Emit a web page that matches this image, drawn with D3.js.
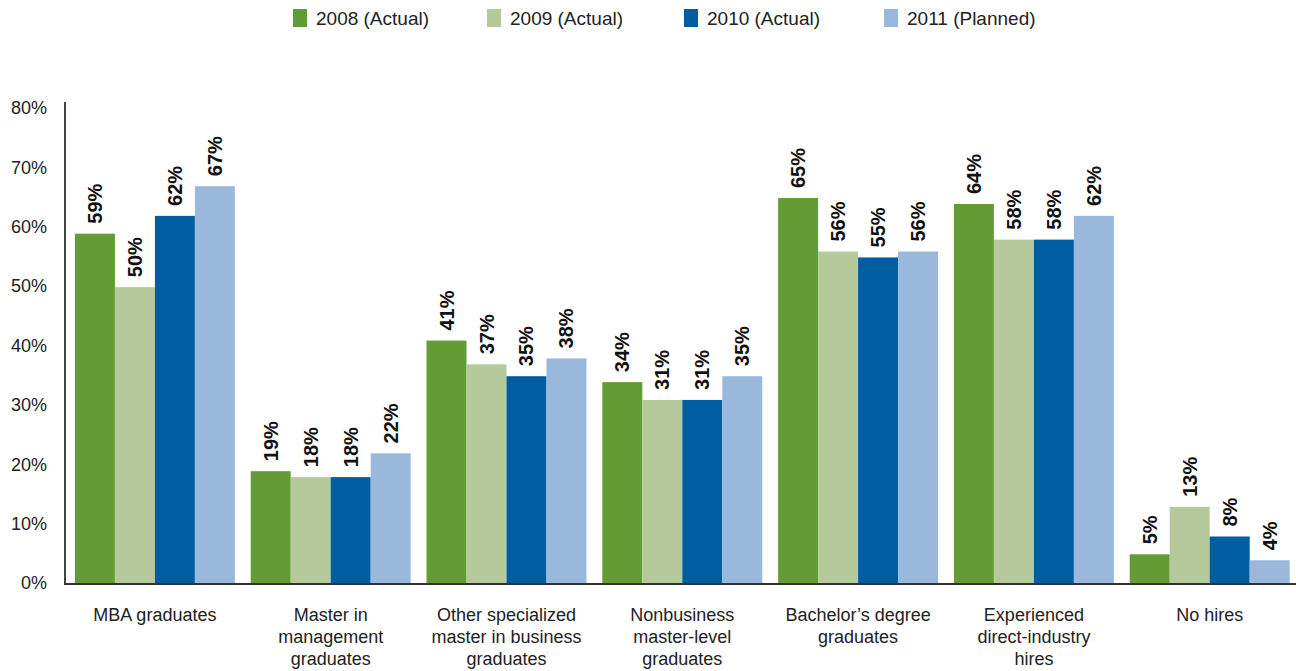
<!DOCTYPE html>
<html>
<head>
<meta charset="utf-8">
<script src="https://cdn.jsdelivr.net/npm/d3@7"></script>
<style>
  body { margin: 0; background: #fff; }
  svg { display: block; font-family: "Liberation Sans", Arial, sans-serif; }
</style>
</head>
<body>
<svg id="plot" width="1296" height="671"></svg>
<script>
const categories = [
    ["MBA graduates"],
    ["Master in", "management", "graduates"],
    ["Other specialized", "master in business", "graduates"],
    ["Nonbusiness", "master-level", "graduates"],
    ["Bachelor\u2019s degree", "graduates"],
    ["Experienced", "direct-industry", "hires"],
    ["No hires"]
]
const seriesNames = ["2008 (Actual)", "2009 (Actual)", "2010 (Actual)", "2011 (Planned)"]
const v2008 = [59, 19, 41, 34, 65, 64, 5]
const v2009 = [50, 18, 37, 31, 56, 58, 13]
const v2010 = [62, 18, 35, 31, 55, 58, 8]
const v2011 = [67, 22, 38, 35, 56, 62, 4]
const yTicks = [0, 10, 20, 30, 40, 50, 60, 70, 80]

const series = [v2008, v2009, v2010, v2011]
const colors = ["#639c35", "#b5c99a", "#005d9f", "#9ab8dc"]

width = 1296
height = 671

x0 = d3.scaleBand()
    .domain(d3.range(categories.length))
    .range([67, 1297.6])
    .paddingInner(0.09)
    .paddingOuter(0.045)

x1 = d3.scaleBand()
    .domain(d3.range(series.length))
    .range([0, x0.bandwidth()])

y = d3.scaleLinear()
    .domain([0, 80])
    .range([584, 109])

const svg = d3.select("#plot");

// y tick labels
svg.append("g")
    .selectAll("text")
    .data(yTicks)
    .join("text")
    .attr("x", 47)
    .attr("y", d => y(d) - 1)
    .attr("dy", "0.35em")
    .attr("text-anchor", "end")
    .attr("font-size", 18)
    .attr("fill", "#222")
    .text(d => d + "%");

// bars
const groups = svg.append("g")
    .selectAll("g")
    .data(categories.map((c, i) => i))
    .join("g")
    .attr("transform", i => `translate(${x0(i)},0)`);

groups.selectAll("rect")
    .data(i => series.map((s, j) => ({ j, v: s[i] })))
    .join("rect")
    .attr("x", d => x1(d.j))
    .attr("width", x1.bandwidth())
    .attr("y", d => y(d.v))
    .attr("height", d => y(0) - y(d.v))
    .attr("fill", d => colors[d.j]);

groups.selectAll("text")
    .data(i => series.map((s, j) => ({ j, v: s[i] })))
    .join("text")
    .attr("transform", d => `translate(${x1(d.j) + x1.bandwidth() / 2},${y(d.v) - 10}) rotate(-90)`)
    .attr("dy", "0.35em")
    .attr("font-size", 20)
    .attr("font-weight", "bold")
    .attr("fill", "#111")
    .text(d => d.v + "%");

// axes lines
svg.append("line")
    .attr("x1", 65).attr("x2", 65)
    .attr("y1", 102).attr("y2", 585)
    .attr("stroke", "#444")
    .attr("stroke-width", 2);

svg.append("line")
    .attr("x1", 64).attr("x2", width)
    .attr("y1", 584).attr("y2", 584)
    .attr("stroke", "#333")
    .attr("stroke-width", 2);

// category labels
svg.append("g")
    .selectAll("text")
    .data(categories)
    .join("text")
    .attr("x", (d, i) => x0(i) + x0.bandwidth() / 2)
    .attr("y", 615)
    .attr("text-anchor", "middle")
    .attr("font-size", 18)
    .attr("fill", "#222")
    .selectAll("tspan")
    .data(d => d)
    .join("tspan")
    .attr("x", function () { return this.parentNode.getAttribute("x") })
    .attr("dy", (d, k) => k === 0 ? "0.35em" : "1.2em")
    .text(d => d);

// legend
const legendX = [293, 487, 684, 884]
const legend = svg.append("g")
    .selectAll("g")
    .data(seriesNames)
    .join("g")
    .attr("transform", (d, i) => `translate(${legendX[i]},9)`);

legend.append("rect")
    .attr("width", 14)
    .attr("height", 18)
    .attr("fill", (d, i) => colors[i]);

legend.append("text")
    .attr("x", 23)
    .attr("y", 9)
    .attr("dy", "0.35em")
    .attr("font-size", 19)
    .attr("fill", "#222")
    .text(d => d);
</script>
</body>
</html>
